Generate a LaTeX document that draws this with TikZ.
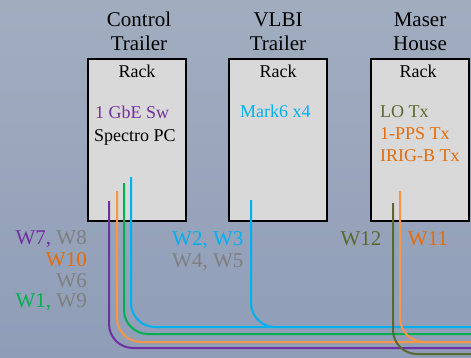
\documentclass[tikz,border=0pt]{standalone}
\usepackage{fontspec}
\setmainfont{Liberation Serif}
\usetikzlibrary{positioning}
\definecolor{skytop}{RGB}{161,173,191}
\definecolor{skybot}{RGB}{143,157,184}
\definecolor{boxgray}{HTML}{D9D9D9}
\definecolor{wblue}{HTML}{00B0F0}
\definecolor{wpurple}{HTML}{7030A0}
\definecolor{worange}{HTML}{F79646}
\definecolor{wtorange}{HTML}{E46C0A}
\definecolor{wgreen}{HTML}{00B050}
\definecolor{wolive}{HTML}{5A6930}
\definecolor{wgray}{HTML}{7F7F7F}
\tikzset{
	rackbox/.style={draw=black, line width=2pt, fill=boxgray, anchor=north west,
		minimum width=98pt, minimum height=162pt, inner sep=0pt},
	title/.style={font=\fontsize{21}{24}\selectfont, align=center, inner sep=0pt, anchor=base},
	item/.style={font=\fontsize{18}{22}\selectfont, inner sep=0pt, anchor=base west},
	wlbl/.style={font=\fontsize{21}{21}\selectfont, inner sep=0pt},
	cable/.style={line width=2pt, rounded corners=24pt}
}

\begin{document}
\begin{tikzpicture}[x=1pt, y=-1pt]
		\useasboundingbox(0, 0)rectangle(471, 357);
		\shade[top color=skytop, bottom color=skybot](0, 0)rectangle(471, 357);
		% racks
		\node[rackbox](ctl)at(87, 58){};
		\node[rackbox](vlbi)at(228, 58){};
		\node[rackbox](maser)at(370, 58){};
		% base of a two-line title is the second line
		\node[title](ctltitle)at(139, 50){Control\\Trailer};
		\node[title](vlbititle)at(278, 50){VLBI\\Trailer};
		\node[title](masertitle)at(420, 50){Maser\\House};
		\node[item, anchor=base](ctlrack)at(137, 77){Rack};
		\node[item, anchor=base](vlbirack)at(278, 77){Rack};
		\node[item, anchor=base](maserrack)at(418, 77){Rack};
		% equipment
		\node[item, text=wpurple](gbe)at(95, 118){1 GbE Sw};
		\node[item](spectro)at(94, 141){Spectro PC};
		\node[item, text=wblue](mark)at(240, 117){Mark6 x4};
		\node[item, text=wolive](lotx)at(380, 117){LO Tx};
		\node[item, text=wtorange](ppstx)at(380, 139){1-PPS Tx};
		\node[item, text=wtorange](irigtx)at(380, 161){IRIG-B Tx};
		% cable ends
		\coordinate(blues)at(131, 177);
		\coordinate(bluee)at(471, 327);
		\coordinate(vblues)at(251, 200);
		\coordinate(greens)at(124, 183);
		\coordinate(greene)at(471, 334);
		\coordinate(oranges)at(117, 191);
		\coordinate(orangee)at(471, 342);
		\coordinate(moranges)at(400, 191);
		\coordinate(purples)at(109, 201);
		\coordinate(purplee)at(471, 348);
		\coordinate(olives)at(393, 203);
		\coordinate(olivee)at(471, 354);
		\draw[cable, wblue](blues)|-(bluee);
		\draw[cable, wblue](vblues)|-(bluee);
		\draw[cable, wgreen](greens)|-(greene);
		\draw[cable, worange](oranges)|-(orangee);
		\draw[cable, worange](moranges)|-(orangee);
		\draw[cable, wpurple](purples)|-(purplee);
		\draw[cable, wolive](olives)|-(olivee);
		% wire labels
		\node[wlbl, anchor=base east](w7)at(87, 244){\textcolor{wpurple}{W7,} \textcolor{wgray}{W8}};
		\node[wlbl, anchor=base east, text=wtorange](w10)at(87, 266){W10};
		\node[wlbl, anchor=base east, text=wgray](w6)at(87, 287){W6};
		\node[wlbl, anchor=base east](w1)at(87, 307){\textcolor{wgreen}{W1,} \textcolor{wgray}{W9}};
		\node[wlbl, anchor=base west, text=wblue](w2)at(172, 245){W2, W3};
		\node[wlbl, anchor=base west, text=wgray](w4)at(172, 267){W4, W5};
		\node[wlbl, anchor=base, text=wolive](w12)at(361, 245){W12};
		\node[wlbl, anchor=base, text=wtorange](w11)at(428, 245){W11};
	\end{tikzpicture}
\end{document}
